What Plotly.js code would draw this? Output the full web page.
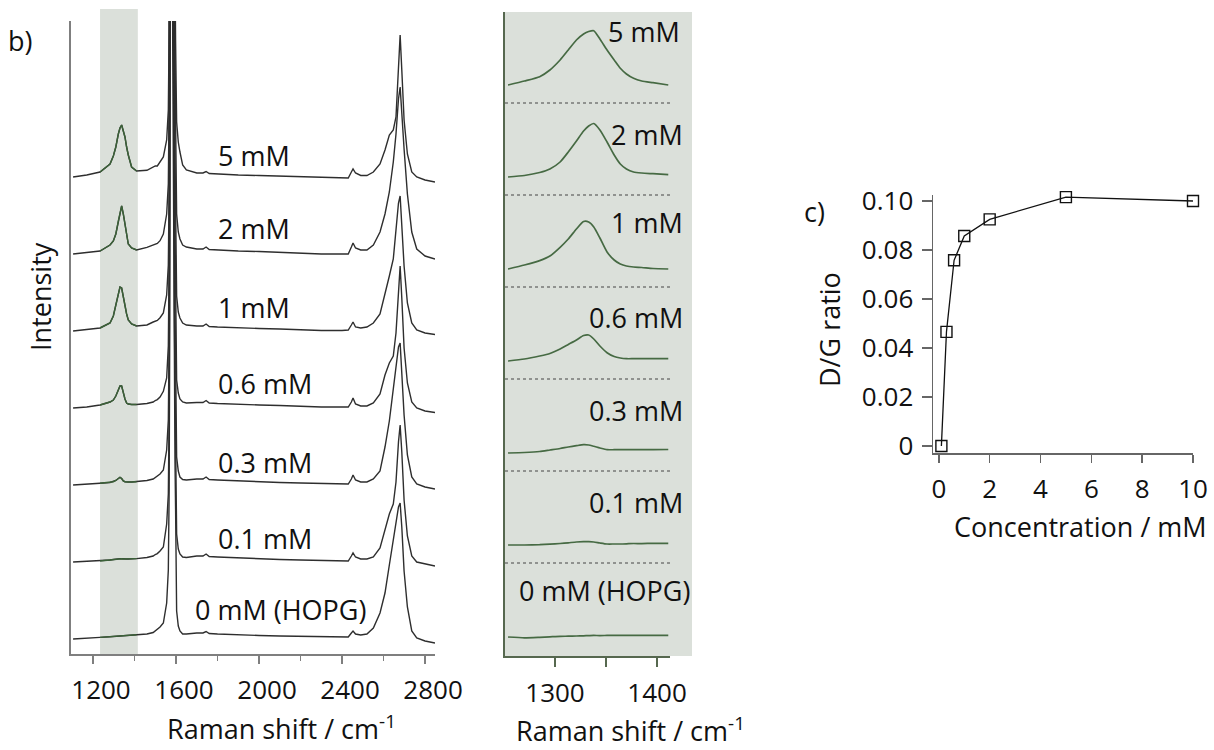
<!DOCTYPE html>
<html><head><meta charset="utf-8">
<script src="https://cdn.plot.ly/plotly-3.0.1.min.js"></script>
<style>html,body{margin:0;padding:0;background:#fff}#chart{width:1214px;height:750px}</style>
</head><body><div id="chart"></div>
<script>
// ---------- DATA ----------
// Panel b (full spectra): Raman shift grid, cm-1
const ramanShift = [1104,1170,1234,1282,1298,1310,1322,1330,1338,1346,1354,1362,1370,1386,1410,
  1460,1490,1500,1510,1523,1539,1555,1563,
  1567,1570,1573,1576,1580,1584,1588,1592,1595,1598,
  1603,1611,1619,1632,1650,
  1700,1730,1745,1760,1800,1900,2000,2100,2200,2300,2400,
  2430,2445,2453,2465,2490,2520,
  2551,2583,2607,2628,2647,2660,2672,2680,2688,2699,2715,2736,2760,2800,2848];
// intensities (a.u.) relative to each spectrum's own baseline
const int_0mM  = [0,0.5,1.6,2.2,2.5,2.8,3,3.1,3.2,3.3,3.4,3.6,3.8,4,4.3,
  5,6.5,8,9.3,12,16,36,69,
  150,320,700,1300,1000,600,380,250,180,130,
  28,13,8,5,5,
  6,6,7.5,5.5,5,4,3.5,3,2.5,2,2,
  2,6,8,5,4,5,
  11,26,46,74,100,118,132,136,112,68,32,8,1,-2,-4];
const int_01mM = [0,0.5,1,2,2.5,3,3.3,3.4,3.3,3,3,3,3,3,3.4,
  4.5,6,7.5,8.4,11,15,38,68,
  152,325,705,1305,1005,605,382,252,182,130,
  28,13,8,5,4.5,
  6,6,8,5.5,5,4,3.5,2.5,2,1.5,1,
  1,6,9,5,3,3,
  5,14,32,48,58,80,120,137,110,62,26,6,0,-2,-4];
const int_03mM = [0,0.5,1.7,2.5,3.3,4.5,6.5,7.7,6.5,4,3.3,3,3,3,3.3,
  4.5,6,7.5,8.3,11,15,35,65,
  148,320,700,1300,1000,600,380,250,180,130,
  28,14,8,5.5,5,
  6,6,8,5.5,5,4,3,2.5,2,1.5,1,
  1,6,10,5,3,3,
  6,14,38,64,95,118,138,142,115,70,30,8,1,-2,-4];
const int_06mM = [0,1,3,6,8,12,18,22,22,15,9,5,4,3.5,3.5,
  4.5,6,7.5,8.4,11,16.7,30,62,
  150,322,708,1310,1000,602,383,251,181,128,
  28,15,9,6,5,
  5.5,5.5,7.5,5,4.5,3.5,3,2.5,1.5,1,1,
  1,6,10,4,2,2,
  5,14,33,45,52,75,120,142,110,60,25,6,0,-3,-4.5];
const int_1mM  = [0,1.5,3,8,15,26,37,44,43,33,24,17,11,7,5,
  6,9,10,10.5,13.3,18,36,66,
  145,315,690,1290,990,595,376,247,178,128,
  35,19,13,8,6,
  5,5,7,4.5,4,3,2.5,2,1,0.5,0.5,
  1,6,9,4,3,4,
  8,17,36,55,72,100,128,135,110,65,28,8,1,-2,-3.5];
const int_2mM  = [0,1.5,3,9,13,20,33,42,48,40,30,17,10,6,4,
  6.6,9,10,10.5,13.3,20,40,70,
  155,330,715,1320,1010,610,385,255,185,135,
  40,22,15,9,7,
  5,5,7,4.5,4,3,2.5,1.5,0.5,0,0,
  0,7,11,6,4,4,
  9,22,40,62,92,120,155,167,145,105,60,22,5,-2,-5];
const int_5mM  = [0,2,5,13,21,30,43,49,52,47,40,30,22,10,6,
  6.7,10,11,11,15,20,37,67,
  150,320,700,1300,1000,600,380,250,180,135,
  55,35,25,12,7,
  4,4,5.5,3.5,3,2,1.5,1,0,-0.5,-1,
  -1,5,8,4,1.5,1.5,
  5,13,27,42,47,60,107,142,107,57,23,5,0,-3,-5];
const specLabels = ['0 mM (HOPG)','0.1 mM','0.3 mM','0.6 mM','1 mM','2 mM','5 mM'];

// Middle panel (D band zoom)
const dShift = [1254,1270,1285,1295,1305,1313,1321,1328,1333,1338,1344,1351,1358,1364,1370,1377,1385,1396,1411];
const d_0mM  = [0,-0.8,-0.3,0.2,0.7,0.8,1,1.2,1.4,1.6,1.4,1.6,1.7,1.6,1.6,1.7,1.6,1.7,1.7];
const d_01mM = [0,0,0.3,0.8,1.5,2.2,3,3.3,3.3,3,2,1,1,1,1.2,1.5,1.4,1.7,1.7];
const d_03mM = [0,0.5,1.5,3,4.5,6,7.3,8.3,8,6.7,5,3.3,3.3,3.3,3.3,3.3,3.3,3.3,3.5];
const d_06mM = [0,2,5,7.5,12,16.5,21,25.5,26,22,15,8.3,4.5,3,2.3,2.3,2.3,2.3,2.3];
const d_1mM  = [0,4,8.4,13,21.7,30,40,47.5,47,42,31,17,9,5,3,2,1.5,0.5,0];
const d_2mM  = [0,1.5,4.5,8,15,25,36,46,51,53.5,47,35,22,13,8,5,4,3.3,2.3];
const d_5mM  = [0,4,8.3,15,25,35,45,51,53.5,54.3,46,35,25,16.7,11,6.7,4,2.3,0];

// Panel c
const concentration = [0.1, 0.3, 0.6, 1, 2, 5, 10];
const dgRatio = [0.000, 0.0466, 0.0758, 0.0857, 0.0925, 0.1016, 0.1000];
const cTickVals = [0, 0.02, 0.04, 0.06, 0.08, 0.10];
const cTickText = ['0', '0.02', '0.04', '0.06', '0.08', '0.10'];

// ---------- DRAW ----------
const W = 1214, H = 750;
const px = v => v / W, py = v => 1 - v / H;
const FONT = '"Open Sans", Lato, sans-serif';
const TXT = '#111';
const FS = 27;      // labels
const TFS = 26;     // tick labels
const fullSpectra = [int_0mM, int_01mM, int_03mM, int_06mM, int_1mM, int_2mM, int_5mM];
const dSpectra = [d_0mM, d_01mM, d_03mM, d_06mM, d_1mM, d_2mM, d_5mM];
const fullBase = 15, fullStep = 77;
const dBase = 19, dStep = 92;
const bandLo = 1234, bandHi = 1416;

const traces = [];
fullSpectra.forEach((s, i) => {
  const off = fullBase + fullStep * i;
  traces.push({x: ramanShift, y: s.map(v => v + off), xaxis: 'x', yaxis: 'y', type: 'scatter',
    mode: 'lines', line: {color: '#2e2e2e', width: 1.4}, hoverinfo: 'skip'});
  const xs = [], ys = [];
  ramanShift.forEach((x, k) => { if (x >= bandLo && x <= bandHi) { xs.push(x); ys.push(s[k] + off); } });
  traces.push({x: xs, y: ys, xaxis: 'x', yaxis: 'y', type: 'scatter', mode: 'lines',
    line: {color: '#3b6238', width: 1.4}, hoverinfo: 'skip'});
});
dSpectra.forEach((s, i) => {
  const off = dBase + dStep * i;
  traces.push({x: dShift, y: s.map(v => v + off), xaxis: 'x2', yaxis: 'y2', type: 'scatter',
    mode: 'lines', line: {color: '#466a43', width: 1.7, shape: 'spline', smoothing: 0.6}, hoverinfo: 'skip'});
});
traces.push({x: concentration, y: dgRatio, xaxis: 'x3', yaxis: 'y3', type: 'scatter', mode: 'lines+markers',
  line: {color: '#111', width: 1.3}, cliponaxis: false,
  marker: {symbol: 'square-open', size: 11, color: '#111', line: {width: 1.4, color: '#111'}}, hoverinfo: 'skip'});

const shapes = [
  {type: 'rect', xref: 'x', yref: 'paper', x0: bandLo, x1: bandHi, y0: py(654), y1: py(9),
    fillcolor: 'rgb(219,224,218)', line: {width: 0}, layer: 'below'},
  {type: 'rect', xref: 'paper', yref: 'paper', x0: px(505), x1: px(692), y0: py(656), y1: py(12),
    fillcolor: 'rgb(219,224,218)', line: {width: 0}, layer: 'below'}
];
for (let i = 0; i < 6; i++) {
  const yv = dBase + dStep * i + 74;
  shapes.push({type: 'line', xref: 'x2 domain', yref: 'y2', x0: 0, x1: 1, y0: yv, y1: yv,
    line: {color: '#444', width: 1, dash: 'dot'}});
}

const ann = [];
function label(text, x, y, anchor, size, extra) {
  ann.push(Object.assign({text: text, xref: 'paper', yref: 'paper', x: px(x), y: py(y),
    xanchor: anchor, yanchor: 'middle', showarrow: false,
    font: {family: FONT, size: size || FS, color: TXT}}, extra || {}));
}
// left panel labels
const leftLabelPos = [[193, 609], [216, 538], [216, 462], [216, 383], [216, 307], [216, 228], [216, 156]];
specLabels.forEach((t, i) => label(t, leftLabelPos[i][0], leftLabelPos[i][1], 'left'));
// middle panel labels
const midLabelPos = [[692, 590], [685, 502], [685, 410], [685, 317], [685, 222], [685, 135], [682, 32]];
specLabels.forEach((t, i) => label(t, midLabelPos[i][0], midLabelPos[i][1], 'right'));
label('b)', 6, 40, 'left');
label('c)', 802, 212, 'left');
label('Intensity', 40, 297, 'center', FS, {textangle: -90});
label('Raman shift / cm<sup>-1</sup>', 281, 727, 'center');
label('Raman shift / cm<sup>-1</sup>', 514, 729, 'left');
label('D/G ratio', 830, 330, 'center', FS, {textangle: -90});
label('Concentration / mM', 1080, 526, 'center');

const tickFont = {family: FONT, size: TFS, color: TXT};
const layout = {
  width: W, height: H, margin: {l: 0, r: 0, t: 0, b: 0},
  paper_bgcolor: '#fff', plot_bgcolor: 'rgba(0,0,0,0)', showlegend: false,
  font: {family: FONT, color: TXT},
  xaxis: {domain: [px(71), px(435)], range: [1094, 2848], anchor: 'y', showgrid: false, zeroline: false,
    showline: true, linecolor: '#7f7f7f', linewidth: 2, ticks: 'outside', ticklen: 8, tickwidth: 1.5,
    tickcolor: '#7f7f7f', tickmode: 'array', tickvals: [1200, 1600, 2000, 2400, 2800],
    minor: {tickmode: 'array', tickvals: [1400, 1800, 2200, 2600], ticks: 'outside', ticklen: 5,
      tickwidth: 1.5, tickcolor: '#7f7f7f', showgrid: false},
    tickfont: tickFont, ticklabelshift: 8, ticklabelstandoff: 4},
  yaxis: {domain: [py(654), py(21)], range: [0, 633], anchor: 'x', showgrid: false, zeroline: false,
    showline: true, linecolor: '#7f7f7f', linewidth: 2, showticklabels: false, ticks: ''},
  xaxis2: {domain: [px(505), px(670)], range: [1251, 1412.7], anchor: 'y2', showgrid: false, zeroline: false,
    showline: true, linecolor: '#56684f', linewidth: 2, ticks: 'outside', ticklen: 9, tickwidth: 1.5,
    tickcolor: '#56684f', tickmode: 'array', tickvals: [1300, 1400],
    minor: {tickmode: 'array', tickvals: [1350], ticks: 'outside', ticklen: 9, tickwidth: 1.5,
      tickcolor: '#56684f', showgrid: false},
    tickfont: tickFont, ticklabelstandoff: 4},
  yaxis2: {domain: [py(656), py(12)], range: [0, 644], anchor: 'x2', showgrid: false, zeroline: false,
    showline: true, linecolor: '#56684f', linewidth: 2.5, showticklabels: false, ticks: ''},
  xaxis3: {domain: [px(933), px(1193)], range: [-0.23, 10], anchor: 'y3', showgrid: false, zeroline: false,
    showline: true, linecolor: '#666', linewidth: 1.5, ticks: 'outside', ticklen: 8, tickwidth: 1.5,
    tickcolor: '#666', tickmode: 'array', tickvals: [0, 2, 4, 6, 8, 10], tickfont: tickFont, ticklabelstandoff: 4},
  yaxis3: {domain: [py(453), py(195)], range: [-0.00286, 0.10245], anchor: 'x3', showgrid: false, zeroline: false,
    showline: true, linecolor: '#666', linewidth: 1.5, ticks: 'outside', ticklen: 10, tickwidth: 1.5,
    tickcolor: '#666', tickmode: 'array', tickvals: cTickVals, ticktext: cTickText, tickfont: tickFont,
    ticklabelstandoff: 3},
  shapes: shapes,
  annotations: ann
};
Plotly.newPlot('chart', traces, layout, {staticPlot: true, displayModeBar: false});
</script>
</body></html>
